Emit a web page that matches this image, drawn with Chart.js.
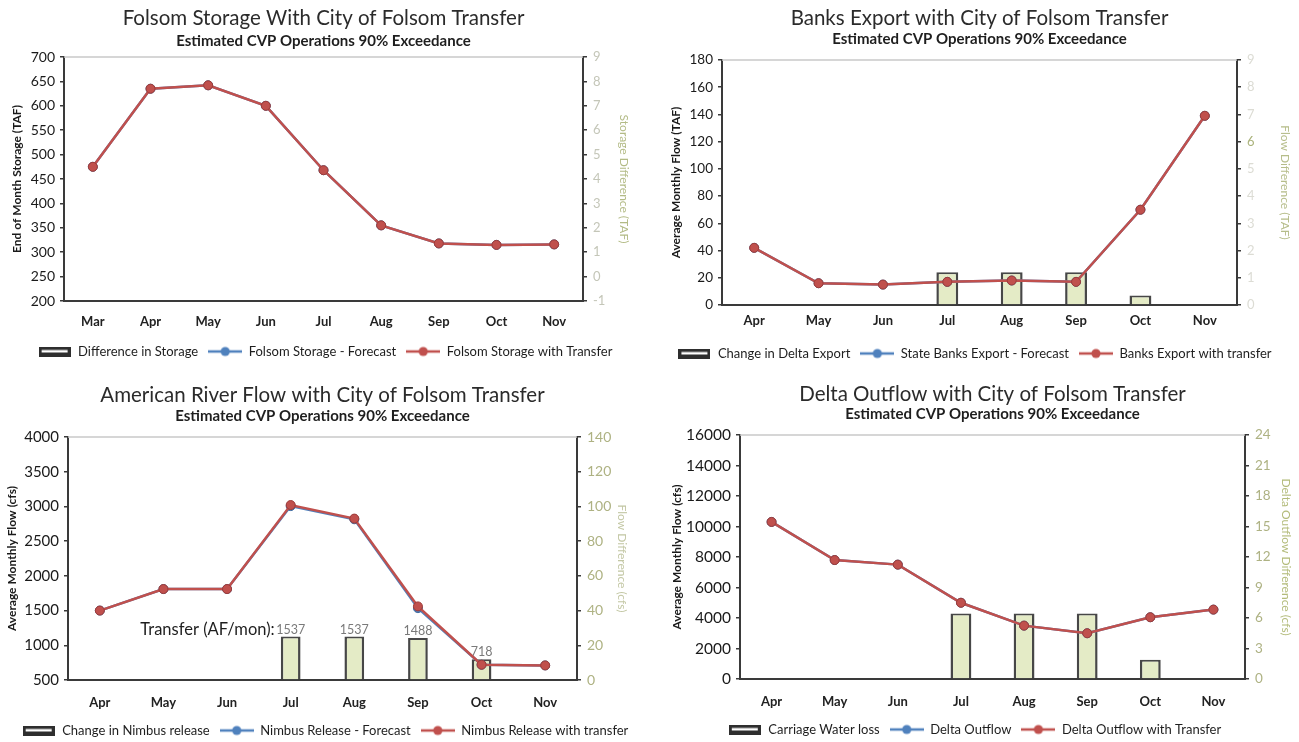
<!DOCTYPE html>
<html><head><meta charset="utf-8">
<script src="https://cdn.jsdelivr.net/npm/chart.js@4.4.1/dist/chart.umd.min.js"></script>
<style>
html,body{margin:0;padding:0;background:#fff;overflow:hidden;width:1299px;height:742px;}
.c{position:absolute;line-height:0;}
canvas{display:block;}
</style></head><body>
<div class="c" style="left:0;top:0"><canvas id="c1" width="650" height="370"></canvas></div>
<div class="c" style="left:650px;top:0"><canvas id="c2" width="649" height="370"></canvas></div>
<div class="c" style="left:0;top:370px"><canvas id="c3" width="650" height="372"></canvas></div>
<div class="c" style="left:650px;top:370px"><canvas id="c4" width="649" height="372"></canvas></div>
<script>
// ---------- DATA ----------
const monthsFolsom = ['Mar','Apr','May','Jun','Jul','Aug','Sep','Oct','Nov'];
const folsomStorageForecast = [475, 635, 642, 600, 468, 355, 318, 315, 316];
const folsomStorageTransfer = [475, 635, 642, 600, 468, 355, 318, 315, 316];
const storageDifference = [0, 0, 0, 0, 0, 0, 0, 0, 0];

const monthsBanks = ['Apr','May','Jun','Jul','Aug','Sep','Oct','Nov'];
const banksExportForecast = [42, 16, 15, 17, 18, 17, 70, 139];
const banksExportTransfer = [42, 16, 15, 17, 18, 17, 70, 139];
const deltaExportChange = [0, 0, 0, 1.2, 1.2, 1.2, 0.35, 0];

const monthsNimbus = ['Apr','May','Jun','Jul','Aug','Sep','Oct','Nov'];
const nimbusForecast = [1500, 1810, 1810, 3005, 2815, 1535, 720, 710];
const nimbusTransfer = [1500, 1810, 1810, 3020, 2825, 1560, 720, 710];
const nimbusChange = [0, 0, 0, 25, 25, 24.2, 12, 0];
const transferAFmon = ['', '', '', '1537', '1537', '1488', '718', ''];

const monthsDelta = ['Apr','May','Jun','Jul','Aug','Sep','Oct','Nov'];
const deltaOutflowForecast = [10300, 7800, 7500, 5000, 3500, 3000, 4050, 4550];
const deltaOutflowTransfer = [10300, 7800, 7500, 5000, 3500, 3000, 4050, 4550];
const carriageWaterLoss = [0, 0, 0, 6.45, 6.45, 6.45, 1.9, 0];

// ---------- STYLE ----------
const FONT = 'Lato, "Open Sans", sans-serif';
const RED = '#c0504d', RED_DARK = '#9e3b38', BLUE = '#4f81bd', BLUE_DARK = '#3d6aa0';
const AXIS = '#3a3a3a';

function lineIcon(color){
  const c=document.createElement('canvas'); c.width=34; c.height=12;
  const x=c.getContext('2d');
  x.strokeStyle=color; x.lineWidth=2.5; x.beginPath(); x.moveTo(0,6); x.lineTo(34,6); x.stroke();
  x.fillStyle=color; x.beginPath(); x.arc(17,6,4.6,0,Math.PI*2); x.fill();
  return c;
}
function barIcon(){
  const c=document.createElement('canvas'); c.width=32; c.height=10;
  const x=c.getContext('2d');
  x.fillStyle='#2e2e2e'; x.fillRect(0,0,32,10);
  x.fillStyle='#ffffff'; x.fillRect(3,3.5,26,2.5);
  return c;
}
const icons=[barIcon(), lineIcon(BLUE), lineIcon(RED)];

const topLine = {
  id:'topLine',
  beforeDatasetsDraw(chart){
    const {ctx, chartArea:a}=chart;
    ctx.save(); ctx.strokeStyle='#c8c8c8'; ctx.lineWidth=1.5;
    ctx.beginPath(); ctx.moveTo(a.left,a.top); ctx.lineTo(a.right,a.top); ctx.stroke(); ctx.restore();
  }
};

function makeChart(id, s){
  const L = s.lay;
  const TS = 20.5, SS = 15;
  const titleEnd = L.tY + TS*0.6;
  const subTop = L.sY - SS*0.6 - titleEnd;
  const subBottom = L.top - (L.sY + SS*0.6);
  const plugins=[topLine];
  if (s.extra) plugins.push(s.extra);
  return new Chart(document.getElementById(id), {
    type:'bar',
    data:{
      labels:s.labels,
      datasets:[
        {type:'bar', label:s.names[0], data:s.bar, yAxisID:'y1', order:2,
         backgroundColor:'#e4ebc6', borderColor:'#474747', borderWidth:{left:2.5,right:2.5,top:2,bottom:0},
         borderSkipped:'start', barPercentage:s.barPct, categoryPercentage:1},
        {type:'line', label:s.names[1], data:s.forecast, yAxisID:'y', order:1,
         borderColor:BLUE, backgroundColor:BLUE, borderWidth:2.5, pointRadius:4.5,
         pointBackgroundColor:BLUE, pointBorderColor:BLUE_DARK, pointBorderWidth:1, tension:0},
        {type:'line', label:s.names[2], data:s.transfer, yAxisID:'y', order:0,
         borderColor:RED, backgroundColor:RED, borderWidth:2.5, pointRadius:4.5,
         pointBackgroundColor:RED, pointBorderColor:RED_DARK, pointBorderWidth:1, tension:0}
      ]
    },
    options:{
      responsive:false, animation:false, events:[],
      layout:{padding:{top:0,left:0,right:0,bottom:L.pb}},
      plugins:{
        tooltip:{enabled:false},
        title:{display:true, text:s.title, fullSize:false, color:'#2b2b2b',
               font:{family:FONT,size:TS,weight:'normal',lineHeight:1.2}, padding:{top:L.tY-TS*0.6,bottom:0}},
        subtitle:{display:true, text:s.subtitle, fullSize:false, color:'#1e1e1e',
               font:{family:FONT,size:SS,weight:'bold',lineHeight:1.2}, padding:{top:subTop,bottom:subBottom}},
        legend:{display:true, position:'bottom',
          labels:{usePointStyle:true, pointStyleWidth:34, padding:L.legPad, color:'#1e1e1e',
            font:{family:FONT,size:13},
            generateLabels:(chart)=>chart.data.datasets.map((ds,i)=>({
              text:ds.label, pointStyle:icons[i], datasetIndex:i, fontColor:'#1e1e1e',
              fillStyle:'rgba(0,0,0,0)', strokeStyle:'rgba(0,0,0,0)', lineWidth:0, hidden:false}))
          }}
      },
      scales:{
        x:{grid:{display:false, drawTicks:false}, border:{display:true,color:AXIS,width:2},
           ticks:{padding:L.xPad, color:'#222', font:{family:FONT,size:13,weight:'bold'}},
           afterFit:(sc)=>{sc.height=L.xH;}},
        y:{position:'left', min:s.left.min, max:s.left.max,
           ticks:{stepSize:s.left.step, padding:5, color:'#1a1a1a', format:{useGrouping:false},
                  font:{family:FONT,size:s.left.fs}},
           grid:{display:true, drawOnChartArea:false, drawTicks:true, tickLength:4, color:AXIS, lineWidth:1.5},
           border:{display:true,color:AXIS,width:2},
           title:{display:true, text:s.left.title, color:'#1a1a1a', font:{family:FONT,size:12,weight:'bold'}, padding:{top:L.ltPad,bottom:0}},
           afterFit:(sc)=>{sc.width=L.leftW;}},
        y1:{position:'right', min:s.right.min, max:s.right.max,
           ticks:{stepSize:s.right.step, padding:6, color:s.right.tickColor, format:{useGrouping:false},
                  font:{family:FONT,size:s.right.fs}},
           grid:{display:true, drawOnChartArea:false, drawTicks:true, tickLength:4, color:AXIS, lineWidth:1.5},
           border:{display:true,color:AXIS,width:2},
           title:{display:true, text:s.right.title, color:s.right.titleColor, font:{family:FONT,size:12}, padding:{top:L.rtPad,bottom:0}},
           afterFit:(sc)=>{sc.width=L.rightW;}}
      }
    },
    plugins
  });
}

const SUB = 'Estimated CVP Operations 90% Exceedance';

makeChart('c1', {
  labels:monthsFolsom, bar:storageDifference, forecast:folsomStorageForecast, transfer:folsomStorageTransfer,
  names:['Difference in Storage','Folsom Storage - Forecast','Folsom Storage with Transfer'],
  title:'Folsom Storage With City of Folsom Transfer', subtitle:SUB, barPct:0.33,
  left:{min:200,max:700,step:50,title:'End of Month Storage (TAF)',fs:14},
  right:{min:-1,max:9,step:1,title:'Storage Difference (TAF)',tickColor:'#c4c6b8',titleColor:'#b3bb86',fs:13},
  lay:{tY:18,sY:41,top:57,pb:2,legPad:10,xH:34,xPad:13,leftW:64,rightW:67,ltPad:10,rtPad:19}
});

makeChart('c2', {
  labels:monthsBanks, bar:deltaExportChange, forecast:banksExportForecast, transfer:banksExportTransfer,
  names:['Change in Delta Export','State Banks Export - Forecast','Banks Export with transfer'],
  title:'Banks Export with City of Folsom Transfer', subtitle:SUB, barPct:0.34,
  left:{min:0,max:180,step:20,title:'Average Monthly Flow (TAF)',fs:13.5},
  right:{min:0,max:9,step:1,title:'Flow Difference (TAF)',fs:13,
         tickColor:(c)=>c.tick && c.tick.value===6 ? '#aab27a' : '#dcdcd4', titleColor:'#b6bd8a'},
  lay:{tY:18,sY:39,top:60,pb:0,legPad:10,xH:32,xPad:8,leftW:72,rightW:62,ltPad:19,rtPad:7}
});

const transferLabelPlugin = {
  id:'transferLabels',
  afterDatasetDraw(chart, args){
    if (args.index!==0) return;
    const ctx=chart.ctx; const meta=chart.getDatasetMeta(0);
    ctx.save();
    ctx.textAlign='center'; ctx.textBaseline='middle';
    ctx.font='12.5px '+FONT; ctx.fillStyle='#7a7a7a';
    let first=null;
    meta.data.forEach((bar,i)=>{
      const t=transferAFmon[i]; if(!t) return;
      ctx.fillText(t, bar.x, bar.y-7);
      if(!first) first={x:bar.x,y:bar.y-7};
    });
    if(first){
      ctx.textAlign='right'; ctx.font='16.5px '+FONT; ctx.fillStyle='#1e1e1e';
      ctx.fillText('Transfer (AF/mon):', first.x-16, first.y);
    }
    ctx.restore();
  }
};

makeChart('c3', {
  labels:monthsNimbus, bar:nimbusChange, forecast:nimbusForecast, transfer:nimbusTransfer,
  names:['Change in Nimbus release','Nimbus Release - Forecast','Nimbus Release with transfer'],
  title:'American River Flow with City of Folsom Transfer', subtitle:SUB, barPct:0.31,
  left:{min:500,max:4000,step:500,title:'Average Monthly Flow (cfs)',fs:15},
  right:{min:0,max:140,step:20,title:'Flow Difference (cfs)',tickColor:'#aeb283',titleColor:'#c3c7a4',fs:14},
  lay:{tY:25,sY:46,top:67,pb:-5,legPad:10,xH:34,xPad:15,leftW:68,rightW:73,ltPad:5,rtPad:21},
  extra:transferLabelPlugin
});

makeChart('c4', {
  labels:monthsDelta, bar:carriageWaterLoss, forecast:deltaOutflowForecast, transfer:deltaOutflowTransfer,
  names:['Carriage Water loss','Delta Outflow','Delta Outflow with Transfer'],
  title:'Delta Outflow with City of Folsom Transfer', subtitle:SUB, barPct:0.33,
  left:{min:0,max:16000,step:2000,title:'Average Monthly Flow (cfs)',fs:15.5},
  right:{min:0,max:24,step:3,title:'Delta Outflow Difference (cfs)',tickColor:'#aeb283',titleColor:'#b3bb7a',fs:13.5},
  lay:{tY:24,sY:44,top:65,pb:-4,legPad:10,xH:34,xPad:15,leftW:90,rightW:54,ltPad:20,rtPad:6}
});
</script>
</body></html>
